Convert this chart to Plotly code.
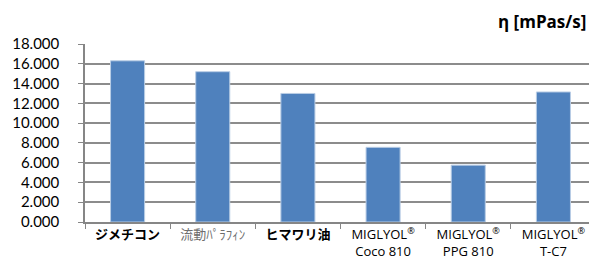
import plotly.graph_objects as go

categories = [
    "<b>ジメチコン</b>",
    "<span style='color:#6e6e6e'>流動ﾊﾟﾗﾌｨﾝ</span>",
    "<b>ヒマワリ油</b>",
    "MIGLYOL<sup>®</sup><br>Coco 810",
    "MIGLYOL<sup>®</sup><br>PPG 810",
    "MIGLYOL<sup>®</sup><br>T-C7",
]
values = [16.3, 15.2, 13.0, 7.55, 5.75, 13.15]
y_ticks = [0, 2, 4, 6, 8, 10, 12, 14, 16, 18]

fig = go.Figure(go.Bar(
    x=categories, y=values,
    marker=dict(color="#4f81bd", line=dict(color="#b9cde5", width=1)),
    width=0.4,
))

# page body has an 8px margin, so the figure is sized/offset to compensate
fig.update_layout(
    width=589, height=261,
    margin=dict(l=77, r=1, t=36, b=47),
    paper_bgcolor="white", plot_bgcolor="white",
    font=dict(family="Lato, 'Noto Sans CJK JP', sans-serif", color="#000"),
    showlegend=False,
    annotations=[dict(
        text="<b>η [mPas/s]</b>", xref="paper", yref="paper",
        x=1.0, y=1.0, xanchor="right", yanchor="bottom", yshift=9, xshift=-8,
        showarrow=False, font=dict(size=17, family="'Open Sans', 'Noto Sans', sans-serif"),
    )],
)
fig.update_xaxes(
    type="category", tickson="boundaries", ticks="outside", ticklen=5,
    tickcolor="#868686", showline=True, linecolor="#868686", linewidth=1.5,
    tickfont=dict(size=13, family="'Open Sans', 'Noto Sans CJK JP', sans-serif"),
    showgrid=False, automargin=False,
)
fig.update_yaxes(
    range=[0, 18], tickvals=y_ticks, tickformat=".3f",
    ticks="outside", ticklen=5, tickcolor="#868686",
    showline=True, linecolor="#868686", linewidth=1.5,
    gridcolor="#8c8c8c", gridwidth=1.5, ticklabelstandoff=16,
    tickfont=dict(size=15), zeroline=False, automargin=False,
)

fig.write_html("out.html")
